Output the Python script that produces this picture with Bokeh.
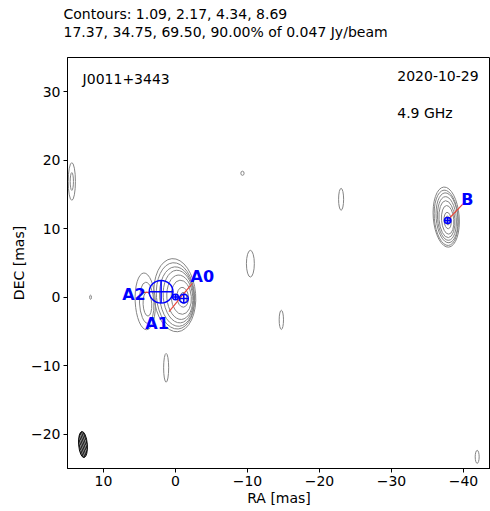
from bokeh.plotting import figure
from bokeh.models import Range1d, FixedTicker, CustomJSTickFormatter, Label, Title
from bokeh.embed import file_html
from bokeh.resources import INLINE

# ---- data ----
title_line1 = "Contours: 1.09, 2.17, 4.34, 8.69"
title_line2 = "17.37, 34.75, 69.50, 90.00% of 0.047 Jy/beam"
source_name = "J0011+3443"
obs_date = "2020-10-29"
obs_freq = "4.9 GHz"

x_ticks = [10, 0, -10, -20, -30, -40]
y_ticks = [-20, -10, 0, 10, 20, 30]

# contour ellipses (RA, DEC, width, height in mas)
# component A (main)
a_x = [0.1, 0.0, -0.2, -0.4, -0.6, -0.8, -1.0, -1.1]
a_y = [0.3, 0.2, 0.1, 0.1, 0.0, 0.0, 0.0, -0.1]
a_w = [5.8, 5.3, 4.8, 4.2, 3.6, 2.8, 1.6, 0.9]
a_h = [10.7, 9.7, 8.7, 7.7, 6.5, 5.0, 2.9, 1.6]
# secondary lobe (A2 region)
s_x = [4.2, 4.0, 3.9]
s_y = [-0.6, -0.8, -1.0]
s_w = [2.8, 2.0, 1.2]
s_h = [8.3, 6.0, 3.5]
# component B
b_x = [-37.6, -37.6, -37.7, -37.7, -37.7, -37.8, -37.8, -37.8]
b_y = [11.7, 11.6, 11.6, 11.5, 11.4, 11.3, 11.2, 11.2]
b_w = [3.6, 3.3, 3.0, 2.6, 2.2, 1.7, 1.0, 0.5]
b_h = [8.8, 8.1, 7.3, 6.4, 5.4, 4.2, 2.4, 1.3]
# isolated small contours
n_x = [14.4, 14.4, 15.6, 11.8, -9.3, -23.0, -10.4, -14.7, 1.3, -41.9]
n_y = [16.9, 16.9, 2.5, 0.0, 18.1, 14.3, 4.9, -3.3, -10.3, -23.3]
n_w = [1.0, 0.45, 1.2, 0.25, 0.45, 0.7, 1.1, 0.6, 0.7, 0.55]
n_h = [5.5, 2.6, 3.0, 0.6, 0.6, 3.2, 3.9, 2.8, 4.2, 1.9]

# beam
beam_x, beam_y, beam_w, beam_h = [12.85], [-21.5], [1.2], [3.8]

# model components
comp_names = ["A0", "A1", "A2", "B"]
comp_x = [-1.15, 0.0, 2.0, -37.8]
comp_y = [-0.2, 0.05, 0.8, 11.2]
comp_d = [1.25, 0.8, 3.3, 0.9]
label_x = [-2.1, 4.2, 7.4, -39.7]
label_y = [3.1, -3.8, 0.4, 14.2]
# leader lines
lead_x0 = [-2.3, 4.7, -40.0]
lead_y0 = [2.0, 0.7, 13.7]
lead_x1 = [0.9, 3.6, -38.0]
lead_y1 = [-2.1, 0.7, 11.5]

FONT = "DejaVu Sans"

p = figure(width=490, height=511, output_backend="svg", toolbar_location=None,
           x_range=Range1d(15, -43.75), y_range=Range1d(-25, 35),
           min_border_left=67, min_border_right=0, min_border_top=57, min_border_bottom=43)
p.grid.visible = False
p.outline_line_color = "black"
p.outline_line_width = 1
p.background_fill_color = "white"
p.border_fill_color = "white"

spacer = Title(text=" ", text_font=FONT, text_font_size="14px", standoff=0)
t2 = Title(text=title_line2, text_font=FONT, text_font_size="14px", text_font_style="normal",
           text_color="black", offset=-4, standoff=0)
t1 = Title(text=title_line1, text_font=FONT, text_font_size="14px", text_font_style="normal",
           text_color="black", offset=-4, standoff=0)
p.title.visible = False
p.add_layout(spacer, "above")
p.add_layout(t2, "above")
p.add_layout(t1, "above")

fmt = CustomJSTickFormatter(code="return (tick < 0 ? '\u2212' : '') + Math.abs(tick);")
for ax, ticks, lab in ((p.xaxis[0], x_ticks, "RA [mas]"), (p.yaxis[0], y_ticks, "DEC [mas]")):
    ax.ticker = FixedTicker(ticks=ticks)
    ax.formatter = fmt
    ax.axis_label = lab
    ax.axis_label_text_font = FONT
    ax.axis_label_text_font_size = "14px"
    ax.axis_label_text_font_style = "normal"
    ax.axis_label_text_color = "black"
    ax.major_label_text_font = FONT
    ax.major_label_text_font_size = "14px"
    ax.major_label_text_color = "black"
    ax.major_tick_out = 4
    ax.major_tick_in = 0
    ax.major_tick_line_color = "black"
    ax.minor_tick_out = 0
    ax.minor_tick_in = 0
    ax.axis_line_color = "black"
    ax.major_label_standoff = 3
    ax.axis_label_standoff = 1

# contours
for xs, ys, ws, hs, ang in ((a_x, a_y, a_w, a_h, 0.08), (s_x, s_y, s_w, s_h, 0.05),
                            (b_x, b_y, b_w, b_h, 0.08), (n_x, n_y, n_w, n_h, 0.0)):
    p.ellipse(x=xs, y=ys, width=ws, height=hs, angle=ang, fill_color=None,
              line_color="#858585", line_width=1)

# beam
p.ellipse(x=beam_x, y=beam_y, width=beam_w, height=beam_h, angle=0.08,
          fill_color="#808080", line_color="black", line_width=1,
          hatch_pattern="/", hatch_color="#222222", hatch_scale=5, hatch_weight=1.2)

# leader lines
p.segment(x0=lead_x0, y0=lead_y0, x1=lead_x1, y1=lead_y1, line_color="#e8483c",
          line_width=1.2, line_alpha=1.0)

# components: circle with cross
p.ellipse(x=comp_x, y=comp_y, width=comp_d, height=comp_d, fill_color=None,
          line_color="blue", line_width=1.5)
hx0 = [x + d / 2 for x, d in zip(comp_x, comp_d)]
hx1 = [x - d / 2 for x, d in zip(comp_x, comp_d)]
vy0 = [y + d / 2 for y, d in zip(comp_y, comp_d)]
vy1 = [y - d / 2 for y, d in zip(comp_y, comp_d)]
p.segment(x0=hx0, y0=comp_y, x1=hx1, y1=comp_y, line_color="blue", line_width=1.5)
p.segment(x0=comp_x, y0=vy0, x1=comp_x, y1=vy1, line_color="blue", line_width=1.5)

for name, lx, ly in zip(comp_names, label_x, label_y):
    p.add_layout(Label(x=lx, y=ly, text=name, text_font=FONT, text_font_size="16px",
                       text_font_style="bold", text_color="blue",
                       text_align="left", text_baseline="middle"))

p.add_layout(Label(x=12.9, y=33.05, text=source_name, text_font=FONT, text_font_size="14px",
                   text_color="black", text_align="left", text_baseline="top"))
p.add_layout(Label(x=-30.8, y=33.05, text=obs_date, text_font=FONT, text_font_size="14px",
                   text_color="black", text_align="left", text_baseline="top"))
p.add_layout(Label(x=-30.8, y=28.0, text=obs_freq, text_font=FONT, text_font_size="14px",
                   text_color="black", text_align="left", text_baseline="top"))

open("out.html", "w").write(file_html(p, INLINE))
